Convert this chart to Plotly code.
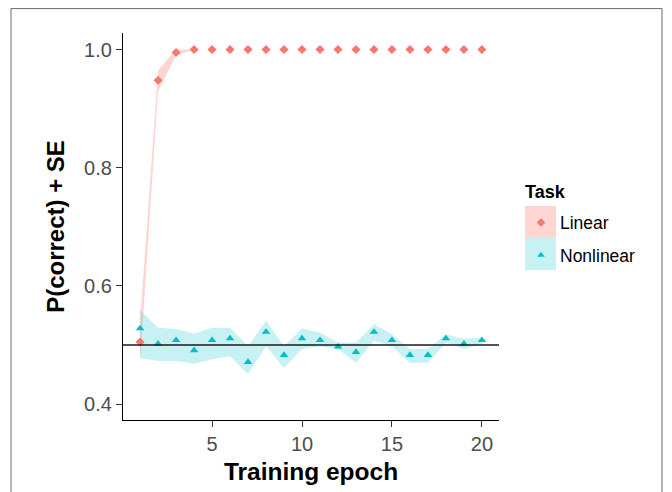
import plotly.graph_objects as go

W, H = 672, 492
OFF = 8  # page body margin in the browser

# ---- data ----
epochs = list(range(1, 21))
linear_mean = [0.505, 0.948, 0.995] + [1.0] * 17
linear_upper = [0.54, 0.965, 1.0] + [1.0] * 17
linear_lower = [0.47, 0.93, 0.99] + [1.0] * 17

nonlinear_mean = [0.528, 0.502, 0.508, 0.491, 0.508, 0.511, 0.471, 0.522, 0.483, 0.511,
                  0.508, 0.497, 0.488, 0.522, 0.508, 0.483, 0.483, 0.511, 0.502, 0.508]
nonlinear_upper = [0.559, 0.529, 0.527, 0.519, 0.529, 0.529, 0.498, 0.541, 0.498, 0.528,
                   0.521, 0.504, 0.504, 0.535, 0.518, 0.493, 0.493, 0.518, 0.510, 0.512]
nonlinear_lower = [0.478, 0.473, 0.473, 0.468, 0.476, 0.481, 0.451, 0.498, 0.461, 0.493,
                   0.498, 0.493, 0.470, 0.507, 0.498, 0.470, 0.470, 0.504, 0.493, 0.501]

chance = 0.5
x_ticks = [5, 10, 15, 20]
y_ticks = [0.4, 0.6, 0.8, 1.0]
y_tick_labels = ["0.4", "0.6", "0.8", "1.0"]
series_names = ["Linear", "Nonlinear"]

RED = "#F8766D"
CYAN = "#00BFC4"
RED_FILL = "rgba(248,118,109,0.30)"
CYAN_FILL = "rgba(0,191,196,0.22)"
FONT = "Liberation Sans, Arial, sans-serif"

# plot area in (window) pixels
PL, PR, PT, PB = 123, 499, 33, 420

fig = go.Figure()

def ribbon(lower, upper, fill):
    fig.add_trace(go.Scatter(x=epochs, y=lower, mode="lines", line=dict(width=0),
                             hoverinfo="skip", showlegend=False))
    fig.add_trace(go.Scatter(x=epochs, y=upper, mode="lines", line=dict(width=0),
                             fill="tonexty", fillcolor=fill, hoverinfo="skip", showlegend=False))

ribbon(nonlinear_lower, nonlinear_upper, CYAN_FILL)
ribbon(linear_lower, linear_upper, RED_FILL)

fig.add_trace(go.Scatter(x=epochs, y=linear_mean, mode="markers", name=series_names[0],
                         marker=dict(symbol="diamond", size=7, color=RED), showlegend=False))
fig.add_trace(go.Scatter(x=epochs, y=nonlinear_mean, mode="markers", name=series_names[1],
                         marker=dict(symbol="triangle-up", size=7.5, color=CYAN), showlegend=False))

# legend symbols on a pixel overlay axis
fig.add_trace(go.Scatter(x=[541], y=[222.5], mode="markers", xaxis="x2", yaxis="y2",
                         marker=dict(symbol="diamond", size=6.5, color=RED), showlegend=False,
                         hoverinfo="skip"))
fig.add_trace(go.Scatter(x=[541], y=[255], mode="markers", xaxis="x2", yaxis="y2",
                         marker=dict(symbol="triangle-up", size=6.5, color=CYAN), showlegend=False,
                         hoverinfo="skip"))

def px(x):
    return (x - OFF) / W

def py(y):
    return 1 - (y - OFF) / H

shapes = [
    dict(type="line", xref="paper", yref="y", x0=px(PL), x1=px(PR), y0=chance, y1=chance,
         line=dict(color="#1a1a1a", width=1.6), layer="above"),
    dict(type="rect", xref="paper", yref="paper", x0=px(525), x1=px(556), y0=py(238), y1=py(206),
         fillcolor=RED_FILL, line=dict(width=0), layer="below"),
    dict(type="rect", xref="paper", yref="paper", x0=px(525), x1=px(556), y0=py(270), y1=py(238),
         fillcolor=CYAN_FILL, line=dict(width=0), layer="below"),
    dict(type="rect", xref="paper", yref="paper", x0=px(11), x1=px(662), y0=-0.05, y1=py(8.6),
         line=dict(color="#6b6b6b", width=1), fillcolor="rgba(0,0,0,0)", layer="below"),
]

annotations = [
    dict(text="<b>Task</b>", xref="paper", yref="paper", x=px(523), y=py(192), xanchor="left",
         yanchor="middle", showarrow=False, font=dict(family=FONT, size=18, color="black")),
    dict(text=series_names[0], xref="paper", yref="paper", x=px(558), y=py(223), xanchor="left",
         yanchor="middle", showarrow=False, font=dict(family=FONT, size=17.5, color="black")),
    dict(text=series_names[1], xref="paper", yref="paper", x=px(558), y=py(256), xanchor="left",
         yanchor="middle", showarrow=False, font=dict(family=FONT, size=17.5, color="black")),
]

fig.update_layout(
    width=W, height=H,
    margin=dict(l=0, r=0, t=0, b=0),
    paper_bgcolor="white", plot_bgcolor="rgba(0,0,0,0)",
    font=dict(family=FONT),
    showlegend=False,
    shapes=shapes,
    annotations=annotations,
    xaxis=dict(
        domain=[px(PL), px(PR)], range=[0.05, 20.95], tickvals=x_ticks,
        showgrid=False, zeroline=False, showline=True, linecolor="black", linewidth=1.3,
        ticks="outside", ticklen=6, tickcolor="#333333", tickwidth=1.2,
        tickfont=dict(family=FONT, size=20, color="#4D4D4D"),
        title=dict(text="<b>Training epoch</b>", font=dict(family=FONT, size=24.5, color="black"),
                   standoff=8),
        automargin=False, anchor="y",
    ),
    yaxis=dict(
        domain=[py(PB), py(PT)], range=[0.373, 1.028], tickvals=y_ticks, ticktext=y_tick_labels,
        showgrid=False, zeroline=False, showline=True, linecolor="black", linewidth=1.3,
        ticks="outside", ticklen=6, tickcolor="#333333", tickwidth=1.2,
        tickfont=dict(family=FONT, size=20, color="#4D4D4D"),
        title=dict(text="<b>P(correct) + SE</b>", font=dict(family=FONT, size=24, color="black"),
                   standoff=12),
        automargin=False, anchor="x",
    ),
    xaxis2=dict(domain=[0, 1], range=[OFF, OFF + W], visible=False, anchor="y2"),
    yaxis2=dict(domain=[0, 1], range=[OFF + H, OFF], visible=False, anchor="x2"),
)

fig.write_html("out.html")
